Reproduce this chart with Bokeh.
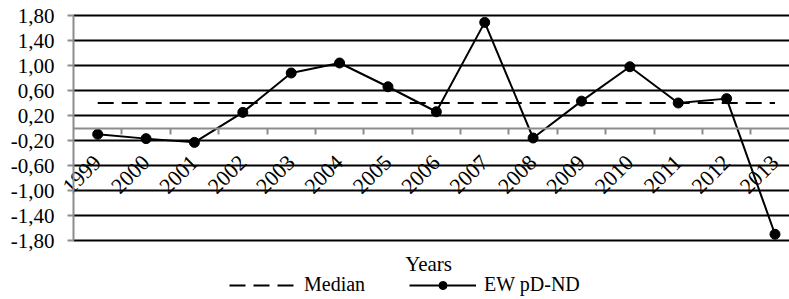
import numpy as np
from bokeh.plotting import figure
from bokeh.models import (Range1d, FixedTicker, Legend, LegendItem, Label,
                          LinearAxis, Grid)
from bokeh.embed import file_html
from bokeh.resources import INLINE

# ---- data ----
years = ["1999", "2000", "2001", "2002", "2003", "2004", "2005", "2006",
         "2007", "2008", "2009", "2010", "2011", "2012", "2013"]
ew_values = [-0.10, -0.17, -0.23, 0.25, 0.88, 1.04, 0.66, 0.26,
             1.69, -0.16, 0.43, 0.98, 0.40, 0.47, -1.70]
median_value = 0.40
y_ticks = [-1.8, -1.4, -1.0, -0.6, -0.2, 0.2, 0.6, 1.0, 1.4, 1.8]
y_tick_labels = ["-1,80", "-1,40", "-1,00", "-0,60", "-0,20",
                 "0,20", "0,60", "1,00", "1,40", "1,80"]

FONT = "Liberation Serif"
GRAY = "#8c8c8c"

x = np.arange(len(years)) + 0.5
medians = [median_value] * len(years)
n_cat = len(years)

# the frame fills the figure; axes sit at fixed data positions so their
# labels are never clipped
p = figure(width=789, height=299, output_backend="svg", toolbar_location=None,
           x_range=Range1d(-1.509, 14.8), y_range=Range1d(-2.744, 2.04),
           x_axis_location=None, y_axis_location=None,
           min_border_left=0, min_border_right=0, min_border_top=0,
           min_border_bottom=0)
p.outline_line_color = None
p.background_fill_color = "white"
p.border_fill_color = "white"
p.grid.visible = False

# horizontal gridlines, starting at the y axis
p.add_layout(Grid(dimension=1, ticker=FixedTicker(ticks=y_ticks),
                  cross_bounds=(0, n_cat),
                  grid_line_color="black", grid_line_width=2))

# y axis at x = 0
ya = LinearAxis(fixed_location=0, ticker=FixedTicker(ticks=y_ticks),
                bounds=(-1.8, 1.8))
ya.major_label_overrides = {t: s for t, s in zip(y_ticks, y_tick_labels)}
ya.axis_line_color = GRAY
ya.axis_line_width = 2
ya.major_tick_line_color = GRAY
ya.major_tick_line_width = 2
ya.major_tick_out = 6
ya.major_tick_in = 0
ya.minor_tick_line_color = None
ya.major_label_standoff = 13
ya.major_label_text_font = FONT
ya.major_label_text_font_size = "21px"
ya.major_label_text_color = "black"
p.add_layout(ya, "left")

# x axis at y = 0
xa = LinearAxis(fixed_location=0, bounds=(0, n_cat),
                ticker=FixedTicker(ticks=list(x),
                                   minor_ticks=list(range(1, n_cat + 1))))
xa.major_label_overrides = {float(xi): yr for xi, yr in zip(x, years)}
xa.axis_line_color = GRAY
xa.axis_line_width = 2
xa.major_tick_line_color = None
xa.major_tick_out = 0
xa.major_tick_in = 0
xa.minor_tick_line_color = GRAY
xa.minor_tick_line_width = 2
xa.minor_tick_out = 6
xa.minor_tick_in = 0
xa.major_label_orientation = np.pi / 4
xa.major_label_standoff = 25
xa.major_label_text_font = FONT
xa.major_label_text_font_size = "22px"
xa.major_label_text_color = "black"
p.add_layout(xa, "below")

# series
r_med = p.line(x, medians, line_color="black", line_width=2, line_dash="16 8")
r_line = p.line(x, ew_values, line_color="black", line_width=2)
r_pts = p.scatter(x, ew_values, size=10, fill_color="black", line_color="black")

# axis title
p.add_layout(Label(x=7.34, y=-2.168, text="Years", text_align="center",
                   text_baseline="middle", text_font=FONT,
                   text_font_size="21px", text_color="black"))

legend = Legend(items=[LegendItem(label="Median", renderers=[r_med]),
                       LegendItem(label="EW pD-ND", renderers=[r_line, r_pts])],
                orientation="horizontal", location=(229, 3),
                glyph_width=67, glyph_height=20, label_standoff=8, spacing=44,
                padding=0, margin=0, border_line_color=None,
                background_fill_alpha=0, label_text_font=FONT,
                label_text_font_size="20px", label_text_color="black")
p.add_layout(legend, "center")

open("out.html", "w").write(file_html(p, INLINE))
